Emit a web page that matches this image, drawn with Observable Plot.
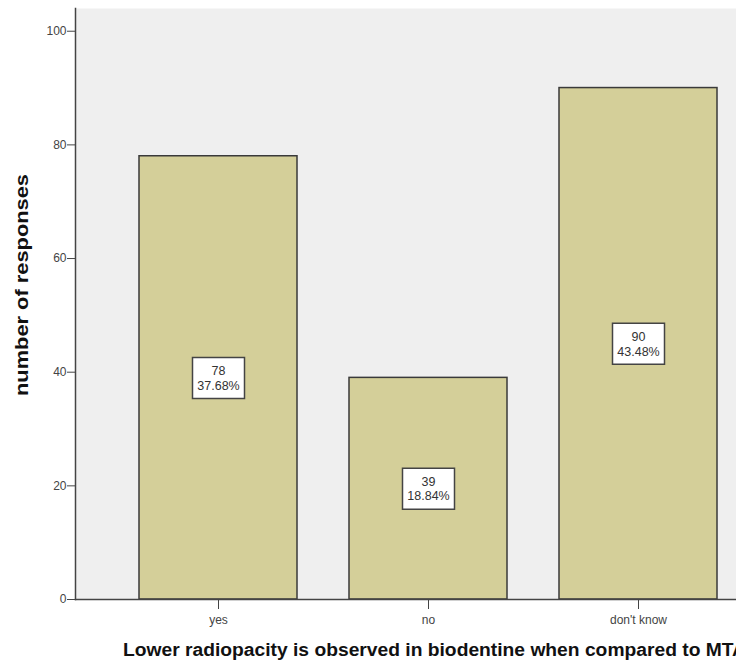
<!DOCTYPE html>
<html>
<head>
<meta charset="utf-8">
<script src="https://cdn.jsdelivr.net/npm/d3@7"></script>
<script src="https://cdn.jsdelivr.net/npm/@observablehq/plot@0.6"></script>
<style>
  html, body { margin: 0; padding: 0; background: #fff; overflow: hidden; }
  #wrap { width: 736px; height: 670px; overflow: hidden; }
  #wrap svg { max-width: none !important; }
</style>
</head>
<body>
<div id="wrap"></div>
<script>
const categories = ["yes", "no", "don't know"];
const counts = [78, 39, 90];
const percents = ["37.68%", "18.84%", "43.48%"];
const yTicks = [0, 20, 40, 60, 80, 100];
const yLabel = "number of responses";
const xLabel = "Lower radiopacity is observed in biodentine when compared to MTA";

const data = categories.map((c, i) => ({cat: c, count: counts[i], pct: percents[i]}));

const boxSymbol = {draw(ctx) { ctx.rect(-26, -20.5, 52, 41); }};

const chart = Plot.plot({
  width: 790,
  height: 670,
  marginLeft: 75,
  marginRight: 10,
  marginTop: 8,
  marginBottom: 71,
  style: {fontFamily: "Arial, 'Liberation Sans', sans-serif", background: "#fff", maxWidth: "none"},
  x: {domain: categories, paddingInner: 0.25, paddingOuter: 0.3, label: null},
  y: {domain: [0, 104], label: null},
  marks: [
    Plot.frame({fill: "#efefef", stroke: null}),
    Plot.barY(data, {x: "cat", y: "count", fill: "#d4cf99", stroke: "#3a3a3a", strokeWidth: 1.5}),
    Plot.dot(data, {x: "cat", y: d => d.count / 2, symbol: boxSymbol, fill: "#fff", stroke: "#444", strokeWidth: 1.5, r: 10}),
    Plot.text(data, {x: "cat", y: d => d.count / 2, text: d => `${d.count}\n${d.pct}`, fill: "#333", fontSize: 12.5, lineHeight: 1.15}),
    Plot.frame({anchor: "left", stroke: "#444", strokeWidth: 1.5}),
    Plot.frame({anchor: "bottom", stroke: "#444", strokeWidth: 1.5}),
    Plot.axisY({ticks: yTicks, tickSize: 8, tickPadding: 1, fontSize: 12, color: "#444", label: null, stroke: "#444"}),
    Plot.axisX({tickSize: 10, tickPadding: 6, fontSize: 12, color: "#444", label: null}),
    Plot.text([yLabel], {frameAnchor: "left", textAnchor: "middle", rotate: -90, dx: -53, dy: -19, fontSize: 18, fontWeight: "bold", fill: "#111"}),
    Plot.text([xLabel], {frameAnchor: "bottom", textAnchor: "start", dx: -305, dy: 56, fontSize: 18, fontWeight: "bold", fill: "#111"})
  ]
});
// stretch the two axis titles to the reference's lengths
d3.select(chart).selectAll("text").filter(function() { return this.textContent === yLabel; })
  .attr("textLength", 222).attr("lengthAdjust", "spacingAndGlyphs");
d3.select(chart).selectAll("text").filter(function() { return this.textContent === xLabel; })
  .attr("textLength", 623).attr("lengthAdjust", "spacingAndGlyphs");
document.getElementById("wrap").appendChild(chart);
</script>
</body>
</html>
